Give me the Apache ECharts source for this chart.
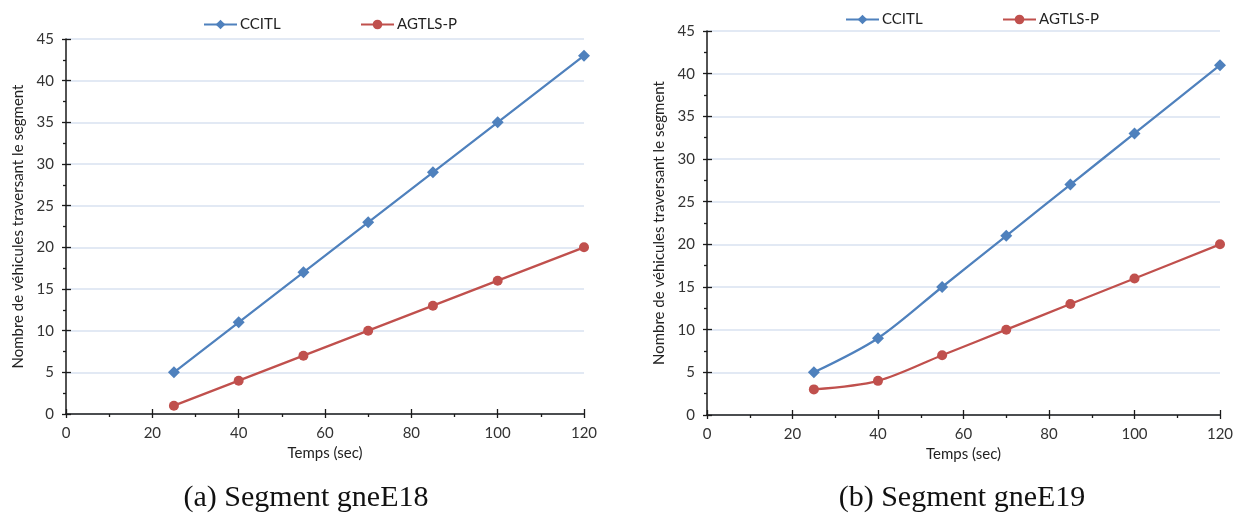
<!DOCTYPE html>
<html>
<head>
<meta charset="utf-8">
<script src="https://cdn.jsdelivr.net/npm/echarts@6/dist/echarts.min.js"></script>
<style>
  html, body { margin: 0; padding: 0; background: #fff; }
  #chart { width: 1243px; height: 513px; }
</style>
</head>
<body>
<div id="chart"></div>
<script>
// temps (sec) en abscisse
const timeSec = [25, 40, 55, 70, 85, 100, 120];
// segment gneE18
const ccitlE18 = [5, 11, 17, 23, 29, 35, 43];
const agtlsE18 = [1, 4, 7, 10, 13, 16, 20];
// segment gneE19
const ccitlE19 = [5, 9, 15, 21, 27, 33, 41];
const agtlsE19 = [3, 4, 7, 10, 13, 16, 20];

const captions = ['(a) Segment gneE18', '(b) Segment gneE19'];
const yName = 'Nombre de véhicules traversant le segment';
const xName = 'Temps (sec)';

const font = 'Lato, "Open Sans", sans-serif';
const axisColor = '#1a1a1a';
const blue = '#4f81bd';
const red = '#c0504d';

function pts(ys) {
  return timeSec.map((x, i) => [x, ys[i]]);
}

// axe principal (ticks exterieurs + labels) et axe superpose (ticks interieurs)
function xAxes(grid) {
  return [
    {
      type: 'value', gridIndex: grid, min: 0, max: 120, interval: 20,
      name: xName, nameLocation: 'middle', nameGap: 32,
      nameTextStyle: { fontFamily: font, fontSize: 15, color: '#222' },
      axisLine: { lineStyle: { color: axisColor, width: 1.5 } },
      axisTick: { show: true, length: 4, lineStyle: { color: axisColor, width: 1.3 } },
      minorTick: { show: true, splitNumber: 2, length: 3, lineStyle: { color: axisColor, width: 1.3 } },
      axisLabel: { fontFamily: font, fontSize: 15, color: '#333', margin: 12 },
      splitLine: { show: false }
    },
    {
      type: 'value', gridIndex: grid, min: 0, max: 120, interval: 20, position: 'bottom',
      axisLine: { show: false },
      axisTick: { show: true, inside: true, length: 5, lineStyle: { color: axisColor, width: 1.3 } },
      axisLabel: { show: false },
      splitLine: { show: false }
    }
  ];
}

function yAxes(grid) {
  return [
    {
      type: 'value', gridIndex: grid, min: 0, max: 45, interval: 5,
      name: yName, nameLocation: 'middle', nameGap: 40, nameRotate: 90,
      nameTextStyle: { fontFamily: font, fontSize: 15, color: '#222' },
      axisLine: { show: true, lineStyle: { color: axisColor, width: 1.5 } },
      axisTick: { show: true, length: 4, lineStyle: { color: axisColor, width: 1.3 } },
      minorTick: { show: true, splitNumber: 2, length: 3, lineStyle: { color: axisColor, width: 1.3 } },
      axisLabel: { fontFamily: font, fontSize: 15, color: '#333', margin: 12 },
      splitLine: { show: true, lineStyle: { color: '#d9e2f0', width: 1.5 } }
    },
    {
      type: 'value', gridIndex: grid, min: 0, max: 45, interval: 5, position: 'left',
      axisLine: { show: false },
      axisTick: { show: true, inside: true, length: 5, lineStyle: { color: axisColor, width: 1.3 } },
      axisLabel: { show: false },
      splitLine: { show: false }
    }
  ];
}

function lineSeries(name, data, grid, color, symbol, size, smooth) {
  return {
    name: name,
    type: 'line',
    xAxisIndex: grid * 2,
    yAxisIndex: grid * 2,
    data: data,
    smooth: smooth,
    symbol: symbol,
    symbolSize: size,
    lineStyle: { color: color, width: 2.25 },
    itemStyle: { color: color },
    animation: false
  };
}

function legendAt(name, left, top) {
  return {
    data: [name], left: left, top: top,
    itemWidth: 33, itemHeight: 12, itemGap: 4,
    textStyle: { fontFamily: font, fontSize: 15, color: '#222', padding: [0, 0, 0, -2] }
  };
}

function caption(text, cx) {
  return {
    type: 'text', x: cx, y: 498,
    style: {
      text: text, font: '30px "Liberation Serif", serif', fill: '#111',
      align: 'center', verticalAlign: 'middle'
    }
  };
}

const chart = echarts.init(document.getElementById('chart'));
const option = {
  backgroundColor: '#fff',
  animation: false,
  grid: [
    { left: 66, right: 659, top: 39, bottom: 99 },
    { left: 707, right: 23, top: 31, bottom: 98 }
  ],
  legend: [
    legendAt('CCITL', 198, 12),
    legendAt('AGTLS-P', 355, 12),
    legendAt('CCITL', 840, 7),
    legendAt('AGTLS-P', 997, 7)
  ],
  xAxis: xAxes(0).concat(xAxes(1)),
  yAxis: yAxes(0).concat(yAxes(1)),
  series: [
    lineSeries('CCITL', pts(ccitlE18), 0, blue, 'diamond', 12, false),
    lineSeries('AGTLS-P', pts(agtlsE18), 0, red, 'circle', 10, false),
    lineSeries('CCITL', pts(ccitlE19), 1, blue, 'diamond', 12, 0.3),
    lineSeries('AGTLS-P', pts(agtlsE19), 1, red, 'circle', 10, 0.3)
  ],
  graphic: [
    caption(captions[0], 306),
    caption(captions[1], 962)
  ]
};
chart.setOption(option);
window.addEventListener('resize', () => {
  chart.resize();
});
</script>
</body>
</html>
